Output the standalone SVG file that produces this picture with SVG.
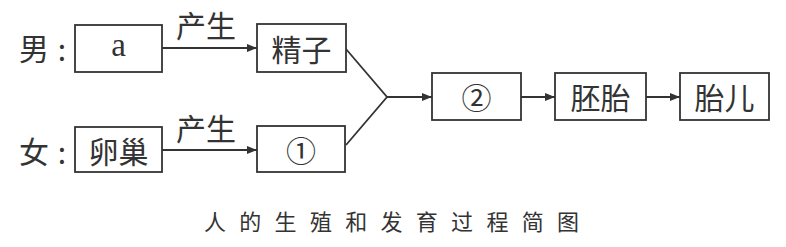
<svg xmlns="http://www.w3.org/2000/svg" width="786" height="247" viewBox="0 0 786 247">
<style>
.box{fill:#fff;stroke:#333;stroke-width:1.8}
.t{font-family:"Liberation Serif","Noto Sans CJK SC",serif;font-size:33px;fill:#333;text-anchor:middle;dominant-baseline:central}
.c{font-family:"Noto Sans CJK SC",sans-serif;font-size:30px;fill:#333;text-anchor:middle;dominant-baseline:central}
.ln{fill:none;stroke:#333;stroke-width:1.8}
.cap{font-family:"Noto Sans CJK SC",sans-serif;font-size:22px;fill:#333}
</style>
<defs>
<marker id="ah" viewBox="0 0 10 8" refX="10" refY="4" markerWidth="10" markerHeight="8" markerUnits="userSpaceOnUse" orient="auto">
<path d="M0,0 L10,4 L0,8 z" fill="#333"/>
</marker>
</defs>
<g id="connectors">
<line class="ln" x1="162" y1="48" x2="257" y2="48" marker-end="url(#ah)"/>
<line class="ln" x1="162" y1="150" x2="257" y2="150" marker-end="url(#ah)"/>
<polyline class="ln" points="346,49 387,97 346,145"/>
<line class="ln" x1="387" y1="97" x2="432" y2="97" marker-end="url(#ah)"/>
<line class="ln" x1="521" y1="97" x2="555" y2="97" marker-end="url(#ah)"/>
<line class="ln" x1="646" y1="97" x2="680" y2="97" marker-end="url(#ah)"/>
<text class="c" x="206" y="24">产生</text>
<text class="c" x="206" y="127">产生</text>
</g>
<g id="label-male"><text class="c" x="34" y="47">男</text><text class="c" x="62" y="48">:</text></g>
<g id="label-female"><text class="c" x="34" y="150">女</text><text class="c" x="62" y="151">:</text></g>
<g id="node-a"><rect class="box" x="75" y="25" width="87" height="47"/><text class="t" x="118.5" y="45">a</text></g>
<g id="node-jingzi"><rect class="box" x="257" y="24" width="89" height="48"/><text class="c" x="301.5" y="48">精子</text></g>
<g id="node-luanchao"><rect class="box" x="75" y="127" width="87" height="45"/><text class="c" x="118.5" y="150">卵巢</text></g>
<g id="node-1"><rect class="box" x="257" y="126" width="88" height="46"/><text class="c" x="301" y="149">①</text></g>
<g id="node-2"><rect class="box" x="432" y="73" width="89" height="47"/><text class="c" x="476.5" y="96">②</text></g>
<g id="node-peitai"><rect class="box" x="555" y="73" width="91" height="47"/><text class="c" x="600.5" y="96">胚胎</text></g>
<g id="node-taier"><rect class="box" x="680" y="73" width="89" height="47"/><text class="c" x="724.5" y="96">胎儿</text></g>
<text class="cap" x="204" y="230" textLength="375" lengthAdjust="spacing">人的生殖和发育过程简图</text>
</svg>
